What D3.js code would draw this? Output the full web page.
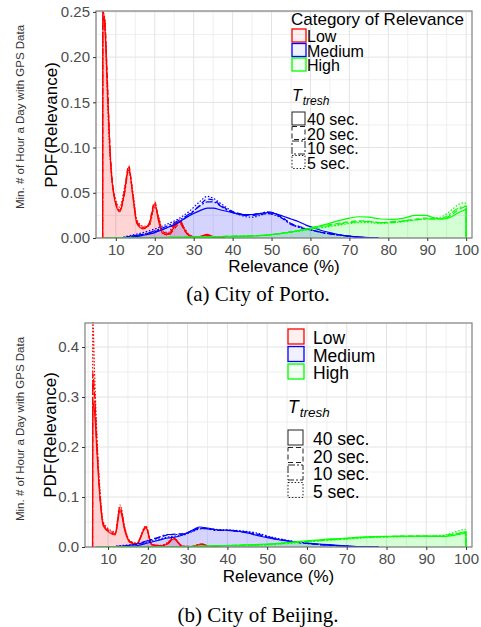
<!DOCTYPE html>
<html>
<head>
<meta charset="utf-8">
<script src="https://d3js.org/d3.v7.min.js"></script>
<style>
body { margin: 0; background: #fff; }
text { font-family: "Liberation Sans", Arial, sans-serif; }
.grid line { stroke: #ebebeb; stroke-width: 0.8; }
.grid .major { stroke: #e3e3e3; stroke-width: 1; }
.tick text { fill: #4d4d4d; }
.cap { font-family: "Liberation Serif", "Times New Roman", serif; font-size: 21px; }
</style>
</head>
<body>
<div id="chart"></div>
<script>
// threshold levels and categories
var categories = ["Low", "Medium", "High"];
var thresholds = ["40 sec.", "20 sec.", "10 sec.", "5 sec."];
var xTicks = [10, 20, 30, 40, 50, 60, 70, 80, 90, 100];
var yTicksPorto = [0.00, 0.05, 0.10, 0.15, 0.20, 0.25];
var yTicksBeijing = [0.0, 0.1, 0.2, 0.3, 0.4];

// ---- Porto ----
var portoLowX = [6.6, 6.65, 7.2, 7.7, 8.5, 9.7, 11, 12.2, 13.3, 14.4, 15.4, 17, 18.5, 20, 21, 22, 23.5, 25, 26.5, 27.5, 29, 31, 33.5, 35.5, 38];
var portoLow40 = [0, 0.245, 0.23, 0.18, 0.095, 0.042, 0.029, 0.05, 0.078, 0.045, 0.016, 0.010, 0.015, 0.038, 0.018, 0.005, 0.004, 0.012, 0.018, 0.010, 0.002, 0.001, 0.004, 0.0005, 0];
var portoLow20 = [0, 0.25, 0.235, 0.19, 0.10, 0.045, 0.031, 0.052, 0.08, 0.046, 0.017, 0.011, 0.016, 0.040, 0.02, 0.006, 0.003, 0.010, 0.016, 0.009, 0.002, 0.001, 0.003, 0.0005, 0];
var portoLow10 = [0, 0.25, 0.24, 0.185, 0.098, 0.044, 0.03, 0.048, 0.075, 0.048, 0.018, 0.012, 0.014, 0.036, 0.022, 0.007, 0.005, 0.014, 0.020, 0.011, 0.003, 0.001, 0.003, 0.001, 0];
var portoLow5 = [0, 0.25, 0.24, 0.17, 0.09, 0.046, 0.034, 0.055, 0.074, 0.05, 0.02, 0.013, 0.013, 0.034, 0.024, 0.008, 0.006, 0.016, 0.017, 0.012, 0.003, 0.001, 0.003, 0.001, 0];

var portoMedX = [11.9, 14, 17, 20, 23, 26, 29, 31.5, 33.5, 35, 37, 39, 41, 43, 45, 47, 49, 51, 53, 55, 57, 59, 61, 63, 66, 70, 74, 77.5];
var portoMed40 = [0, 0.001, 0.003, 0.006, 0.011, 0.017, 0.025, 0.030, 0.033, 0.033, 0.031, 0.029, 0.027, 0.026, 0.026, 0.027, 0.028, 0.027, 0.024, 0.021, 0.018, 0.014, 0.011, 0.008, 0.005, 0.002, 0.0008, 0];
var portoMed20 = [0, 0.002, 0.004, 0.007, 0.011, 0.017, 0.026, 0.036, 0.043, 0.042, 0.036, 0.031, 0.028, 0.026, 0.025, 0.026, 0.027, 0.026, 0.022, 0.016, 0.013, 0.010, 0.008, 0.006, 0.004, 0.002, 0.0005, 0];
var portoMed10 = [0, 0.002, 0.004, 0.008, 0.013, 0.019, 0.027, 0.035, 0.040, 0.040, 0.035, 0.030, 0.027, 0.025, 0.026, 0.027, 0.029, 0.027, 0.021, 0.015, 0.012, 0.010, 0.008, 0.006, 0.004, 0.002, 0.0005, 0];
var portoMed5 = [0.001, 0.003, 0.006, 0.010, 0.015, 0.021, 0.030, 0.040, 0.046, 0.044, 0.038, 0.032, 0.027, 0.024, 0.023, 0.025, 0.027, 0.025, 0.021, 0.016, 0.012, 0.010, 0.008, 0.006, 0.004, 0.002, 0.0005, 0];

var portoHighX = [7, 15, 22, 30, 40, 48, 54, 58, 61, 64, 67, 70, 72.5, 75, 78, 81, 84, 87, 89.5, 92, 94, 96, 98, 99.5, 99.99, 100];
var portoHigh40 = [0, 0.0002, 0.0005, 0.001, 0.0015, 0.003, 0.006, 0.009, 0.012, 0.015, 0.019, 0.022, 0.0235, 0.023, 0.021, 0.0205, 0.022, 0.025, 0.025, 0.022, 0.021, 0.023, 0.028, 0.031, 0.032, 0];
var portoHigh20 = [0, 0.0002, 0.0005, 0.001, 0.002, 0.003, 0.006, 0.009, 0.012, 0.014, 0.016, 0.018, 0.019, 0.0185, 0.017, 0.017, 0.019, 0.021, 0.022, 0.021, 0.021, 0.025, 0.031, 0.034, 0.034, 0];
var portoHigh10 = [0, 0.0002, 0.0005, 0.001, 0.002, 0.003, 0.006, 0.009, 0.011, 0.013, 0.015, 0.017, 0.018, 0.018, 0.017, 0.018, 0.019, 0.020, 0.021, 0.021, 0.022, 0.027, 0.033, 0.035, 0.035, 0];
var portoHigh5 = [0, 0.0002, 0.0005, 0.001, 0.002, 0.003, 0.006, 0.008, 0.010, 0.012, 0.014, 0.016, 0.017, 0.017, 0.016, 0.017, 0.018, 0.020, 0.021, 0.022, 0.024, 0.030, 0.037, 0.039, 0.038, 0];

// ---- Beijing ----
var beijingLowX = [6.1, 6.15, 6.6, 7.2, 8, 8.8, 10.5, 11.8, 13, 14.3, 15.5, 17.2, 19.5, 21, 23, 25, 26.5, 28.6, 31, 33.5, 35.5, 38];
var beijingLow40 = [0, 0.29, 0.27, 0.19, 0.094, 0.042, 0.028, 0.024, 0.072, 0.03, 0.009, 0.006, 0.038, 0.004, 0.002, 0.006, 0.016, 0.001, 0.001, 0.005, 0.0005, 0];
var beijingLow20 = [0, 0.33, 0.30, 0.20, 0.10, 0.045, 0.03, 0.026, 0.078, 0.032, 0.010, 0.006, 0.040, 0.005, 0.002, 0.007, 0.018, 0.002, 0.001, 0.006, 0.001, 0];
var beijingLow10 = [0, 0.35, 0.31, 0.21, 0.10, 0.046, 0.032, 0.027, 0.080, 0.034, 0.011, 0.007, 0.041, 0.005, 0.003, 0.008, 0.018, 0.002, 0.001, 0.006, 0.001, 0];
var beijingLow5 = [0, 0.46, 0.35, 0.22, 0.11, 0.05, 0.034, 0.03, 0.084, 0.036, 0.012, 0.008, 0.042, 0.006, 0.003, 0.009, 0.019, 0.002, 0.001, 0.006, 0.001, 0];

var beijingMedX = [12, 15, 17.5, 20, 22.5, 25, 27, 29, 31, 33, 35, 37.5, 40, 42.5, 45, 48, 51, 54, 57, 60, 63, 67, 71, 75, 78];
var beijingMed40 = [0, 0.001, 0.003, 0.008, 0.013, 0.018, 0.020, 0.025, 0.033, 0.040, 0.038, 0.034, 0.034, 0.032, 0.028, 0.022, 0.017, 0.013, 0.010, 0.008, 0.006, 0.004, 0.0015, 0.0005, 0];
var beijingMed20 = [0.001, 0.003, 0.006, 0.012, 0.018, 0.024, 0.026, 0.027, 0.032, 0.038, 0.037, 0.034, 0.033, 0.031, 0.029, 0.024, 0.018, 0.014, 0.010, 0.007, 0.005, 0.003, 0.0012, 0.0004, 0];
var beijingMed10 = [0.001, 0.003, 0.007, 0.013, 0.019, 0.025, 0.025, 0.026, 0.031, 0.037, 0.036, 0.033, 0.033, 0.032, 0.030, 0.025, 0.019, 0.014, 0.010, 0.007, 0.005, 0.003, 0.0012, 0.0004, 0];
var beijingMed5 = [0.002, 0.004, 0.006, 0.010, 0.015, 0.020, 0.022, 0.024, 0.030, 0.036, 0.037, 0.035, 0.034, 0.033, 0.031, 0.027, 0.020, 0.015, 0.011, 0.008, 0.005, 0.003, 0.0012, 0.0004, 0];

var beijingHighX = [7, 15, 22, 30, 40, 50, 55, 60, 64, 68.4, 72, 76.8, 81, 85.2, 89, 93.6, 96, 98, 99.5, 99.99, 100];
var beijingHigh40 = [0, 0.0002, 0.0005, 0.001, 0.003, 0.006, 0.009, 0.0125, 0.015, 0.017, 0.019, 0.021, 0.0215, 0.022, 0.0215, 0.021, 0.022, 0.025, 0.027, 0.028, 0];
var beijingHigh20 = [0, 0.0002, 0.0005, 0.001, 0.003, 0.005, 0.008, 0.011, 0.014, 0.016, 0.018, 0.020, 0.021, 0.022, 0.022, 0.022, 0.024, 0.027, 0.029, 0.030, 0];
var beijingHigh10 = [0, 0.0002, 0.0005, 0.001, 0.003, 0.005, 0.008, 0.011, 0.013, 0.016, 0.018, 0.020, 0.021, 0.021, 0.022, 0.022, 0.025, 0.028, 0.030, 0.031, 0];
var beijingHigh5 = [0, 0.0002, 0.0005, 0.001, 0.002, 0.004, 0.007, 0.010, 0.013, 0.015, 0.017, 0.019, 0.020, 0.021, 0.022, 0.023, 0.027, 0.032, 0.035, 0.035, 0];

var colors = {"Low": "#ff0000", "Medium": "#0000ff", "High": "#00ff00"};
var dashes = ["none", "5,3", "7,2,2,2", "1.5,1.8"];

var svg = d3.select("#chart").append("svg")
    .attr("width", 481)
    .attr("height", 627);

function drawPanel(p) {
  var g = svg.append("g");
  var x = d3.scaleLinear().domain(p.xDom).range([p.left, p.right]);
  var y = d3.scaleLinear().domain(p.yDom).range([p.bottom, p.top]);

  var clipId = "clip" + p.id;
  svg.append("clipPath").attr("id", clipId)
    .append("rect")
      .attr("x", p.left).attr("y", p.top - 1)
      .attr("width", p.right - p.left).attr("height", p.bottom - p.top + 1);

  // gridlines (minor then major)
  var grid = g.append("g").attr("class", "grid");
  var xMinor = d3.range(5, 101, 10);
  grid.selectAll(".xm").data(xMinor).enter().append("line")
    .attr("x1", d => x(d)).attr("x2", d => x(d))
    .attr("y1", p.top).attr("y2", p.bottom);
  grid.selectAll(".ym").data(p.yMinor).enter().append("line")
    .attr("y1", d => y(d)).attr("y2", d => y(d))
    .attr("x1", p.left).attr("x2", p.right);
  grid.selectAll(".xM").data(xTicks).enter().append("line").attr("class", "major")
    .attr("x1", d => x(d)).attr("x2", d => x(d))
    .attr("y1", p.top).attr("y2", p.bottom);
  grid.selectAll(".yM").data(p.yTicks).enter().append("line").attr("class", "major")
    .attr("y1", d => y(d)).attr("y2", d => y(d))
    .attr("x1", p.left).attr("x2", p.right);

  var area = d3.area()
    .x(d => x(d[0])).y0(y(0)).y1(d => y(d[1]))
    .curve(d3.curveMonotoneX);
  var line = d3.line()
    .x(d => x(d[0])).y(d => y(d[1]))
    .curve(d3.curveMonotoneX);

  var plot = g.append("g").attr("clip-path", "url(#" + clipId + ")");

  p.series.forEach(function(s) {
    s.ys.forEach(function(ys, i) {
      var pts = s.x.map((v, k) => [v, ys[k]]);
      plot.append("path")
        .attr("d", area(pts))
        .attr("fill", colors[s.cat])
        .attr("fill-opacity", 0.045)
        .attr("stroke", "none");
    });
  });
  p.series.forEach(function(s) {
    s.ys.forEach(function(ys, i) {
      var pts = s.x.map((v, k) => [v, ys[k]]);
      plot.append("path")
        .attr("d", line(pts))
        .attr("fill", "none")
        .attr("stroke", colors[s.cat])
        .attr("stroke-width", 1.2)
        .attr("stroke-dasharray", dashes[i]);
    });
  });

  // panel border
  g.append("rect")
    .attr("x", p.left).attr("y", p.top)
    .attr("width", p.right - p.left).attr("height", p.bottom - p.top)
    .attr("fill", "none").attr("stroke", "#7f7f7f").attr("stroke-width", 1.2);

  // axes
  var xAxis = g.append("g")
    .attr("transform", "translate(0," + p.bottom + ")")
    .call(d3.axisBottom(x).tickValues(xTicks).tickSize(3).tickPadding(3));
  xAxis.select(".domain").remove();
  xAxis.selectAll(".tick line").attr("stroke", "#333");
  xAxis.selectAll("text").style("font-size", "15px");

  var yAxis = g.append("g")
    .attr("transform", "translate(" + p.left + ",0)")
    .call(d3.axisLeft(y).tickValues(p.yTicks).tickFormat(d3.format(p.yFmt)).tickSize(3).tickPadding(3));
  yAxis.select(".domain").remove();
  yAxis.selectAll(".tick line").attr("stroke", "#333");
  yAxis.selectAll("text").style("font-size", "15px");

  // titles
  g.append("text")
    .attr("x", (p.left + p.right) / 2).attr("y", p.xTitleY)
    .attr("text-anchor", "middle").style("font-size", "17px")
    .text("Relevance (%)");
  g.append("text")
    .attr("transform", "translate(" + p.yTitleX + "," + p.yMid + ") rotate(-90)")
    .attr("text-anchor", "middle").style("font-size", "17px")
    .text("PDF(Relevance)");
  g.append("text")
    .attr("transform", "translate(24," + p.outerMid + ") rotate(-90)")
    .attr("text-anchor", "middle").style("font-size", "11.5px").attr("fill", "#333")
    .text("Min. # of Hour a Day with GPS Data");

  g.append("text").attr("class", "cap")
    .attr("x", 258).attr("y", p.capY).attr("text-anchor", "middle")
    .text(p.caption);

  // legend
  var L = p.leg;
  var lg = g.append("g");
  if (L.title) {
    lg.append("text").attr("x", L.x).attr("y", L.titleY)
      .style("font-size", (L.fs + 1) + "px").text("Category of Relevance");
  }
  categories.forEach(function(c, i) {
    var yy = L.catY + i * L.step;
    lg.append("rect").attr("x", L.x + 1).attr("y", yy)
      .attr("width", L.box).attr("height", L.box - 1)
      .attr("fill", colors[c]).attr("fill-opacity", 0.06)
      .attr("stroke", colors[c]).attr("stroke-width", 1.3);
    lg.append("text").attr("x", L.tx).attr("y", yy + L.box - 1)
      .style("font-size", L.fs + "px").text(c);
  });
  var tt = lg.append("text").attr("x", L.x + 1).attr("y", L.tY)
    .style("font-size", L.fs + "px").style("font-style", "italic");
  tt.append("tspan").text("T");
  tt.append("tspan").attr("dy", 4).style("font-size", (L.fs - 4) + "px").attr("dx", 1).text("tresh");
  thresholds.forEach(function(t, i) {
    var yy = L.thY + i * L.step;
    lg.append("rect").attr("x", L.x + 1).attr("y", yy)
      .attr("width", L.box - 1).attr("height", L.box - 1)
      .attr("fill", "none").attr("stroke", "#222").attr("stroke-width", 1)
      .attr("stroke-dasharray", dashes[i]);
    lg.append("text").attr("x", L.tx).attr("y", yy + L.box - 1)
      .style("font-size", L.fs + "px").text(t);
  });
}

drawPanel({
  id: "a", left: 96, right: 472, top: 11, bottom: 238,
  xDom: [4.9, 101.5], yDom: [0, 0.251],
  yTicks: yTicksPorto, yMinor: [0.025, 0.075, 0.125, 0.175, 0.225], yFmt: ".2f",
  xTitleY: 272, yTitleX: 57, yMid: 125, outerMid: 117,
  capY: 301, caption: "(a) City of Porto.",
  series: [
    {cat: "Low", x: portoLowX, ys: [portoLow40, portoLow20, portoLow10, portoLow5]},
    {cat: "Medium", x: portoMedX, ys: [portoMed40, portoMed20, portoMed10, portoMed5]},
    {cat: "High", x: portoHighX, ys: [portoHigh40, portoHigh20, portoHigh10, portoHigh5]}
  ],
  leg: {x: 291, tx: 307, fs: 16, box: 14, step: 14.5, title: true, titleY: 25,
        catY: 29, tY: 101, thY: 112}
});

drawPanel({
  id: "b", left: 85, right: 472, top: 323, bottom: 547,
  xDom: [4.2, 101.5], yDom: [0, 0.448],
  yTicks: yTicksBeijing, yMinor: [0.05, 0.15, 0.25, 0.35], yFmt: ".1f",
  xTitleY: 582, yTitleX: 56, yMid: 435, outerMid: 429,
  capY: 622, caption: "(b) City of Beijing.",
  series: [
    {cat: "Low", x: beijingLowX, ys: [beijingLow40, beijingLow20, beijingLow10, beijingLow5]},
    {cat: "Medium", x: beijingMedX, ys: [beijingMed40, beijingMed20, beijingMed10, beijingMed5]},
    {cat: "High", x: beijingHighX, ys: [beijingHigh40, beijingHigh20, beijingHigh10, beijingHigh5]}
  ],
  leg: {x: 287, tx: 313, fs: 17.5, box: 16, step: 17.5, title: false, titleY: 0,
        catY: 329, tY: 413, thY: 430}
});
</script>
</body>
</html>
